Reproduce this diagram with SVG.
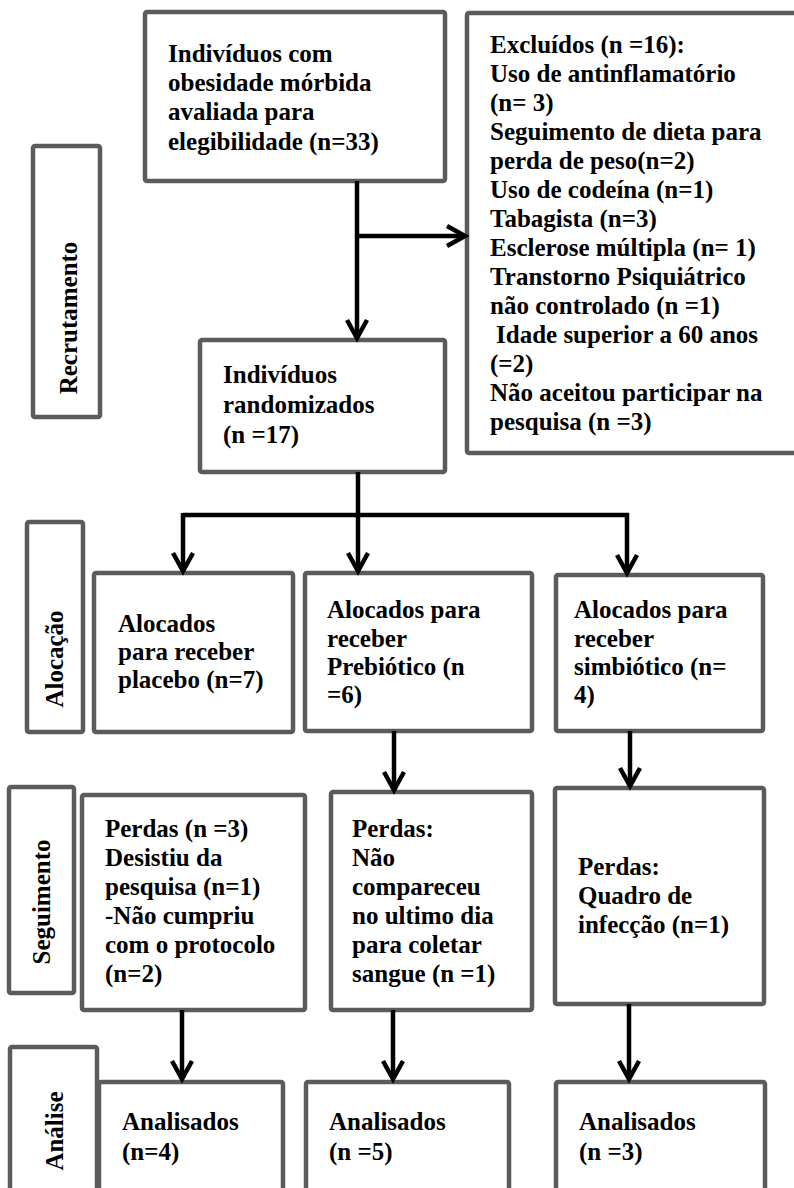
<svg xmlns="http://www.w3.org/2000/svg" width="794" height="1188" viewBox="0 0 794 1188">
<style>
.box{fill:#ffffff;stroke:#5b5b5b;stroke-width:4.5}
text{font-family:'Liberation Serif','Times New Roman','DejaVu Serif',serif;font-weight:700;font-size:25px;fill:#000}
.ln{stroke:#000;stroke-width:4.5;fill:none}
.arr{stroke:#000;stroke-width:4.5;fill:none;marker-end:url(#chev)}
</style>
<defs>
<marker id="chev" markerUnits="userSpaceOnUse" markerWidth="40" markerHeight="40" refX="0" refY="0" orient="auto" overflow="visible" viewBox="-20 -20 40 40">
<path d="M-18,-10 L0,0 L-18,10" fill="none" stroke="#000" stroke-width="4.5" stroke-linejoin="miter"/>
</marker>
</defs>
<rect width="794" height="1188" fill="#ffffff"/>

<g id="label-recrutamento">
<rect class="box" x="33" y="146" width="67" height="271" rx="2"/>
<text font-family="Liberation Serif, serif" transform="translate(77,318) rotate(-90)" text-anchor="middle">Recrutamento</text>
</g>
<g id="label-alocacao">
<rect class="box" x="27" y="522" width="56" height="210" rx="2"/>
<text transform="translate(63,659) rotate(-90)" text-anchor="middle">Alocação</text>
</g>
<g id="label-seguimento">
<rect class="box" x="9" y="787" width="65" height="206" rx="2"/>
<text transform="translate(50,902) rotate(-90)" text-anchor="middle">Seguimento</text>
</g>
<g id="label-analise">
<rect class="box" x="10" y="1047" width="87" height="160" rx="2"/>
<text transform="translate(63,1131) rotate(-90)" text-anchor="middle">Análise</text>
</g>

<g id="node-eligible">
<rect class="box" x="145" y="12" width="300" height="169" rx="2"/>
<text x="168" y="62">Indivíduos com</text>
<text x="168" y="91">obesidade mórbida</text>
<text x="168" y="120">avaliada para</text>
<text x="168" y="150">elegibilidade (n=33)</text>
</g>

<g id="node-excluded">
<rect class="box" x="467" y="13" width="340" height="440" rx="2"/>
<text x="490" y="53">Excluídos (n =16):</text>
<text x="490" y="82">Uso de antinflamatório</text>
<text x="490" y="111">(n= 3)</text>
<text x="490" y="140">Seguimento de dieta para</text>
<text x="490" y="169">perda de peso(n=2)</text>
<text x="490" y="198">Uso de codeína (n=1)</text>
<text x="490" y="227">Tabagista (n=3)</text>
<text x="490" y="256">Esclerose múltipla (n= 1)</text>
<text x="490" y="285">Transtorno Psiquiátrico</text>
<text x="490" y="314">não controlado (n =1)</text>
<text x="496" y="343">Idade superior a 60 anos</text>
<text x="490" y="372">(=2)</text>
<text x="490" y="401">Não aceitou participar na</text>
<text x="490" y="430">pesquisa (n =3)</text>
</g>

<g id="node-randomized">
<rect class="box" x="200" y="340" width="245" height="132" rx="2"/>
<text x="223" y="383">Indivíduos</text>
<text x="223" y="413">randomizados</text>
<text x="223" y="443">(n =17)</text>
</g>

<g id="node-alloc-placebo">
<rect class="box" x="94" y="573" width="199" height="159" rx="2"/>
<text x="118" y="632">Alocados</text>
<text x="118" y="660">para receber</text>
<text x="118" y="688">placebo (n=7)</text>
</g>
<g id="node-alloc-prebiotic">
<rect class="box" x="305" y="573" width="227" height="158" rx="2"/>
<text x="327" y="618">Alocados para</text>
<text x="327" y="647">receber</text>
<text x="327" y="675">Prebiótico (n</text>
<text x="327" y="703">=6)</text>
</g>
<g id="node-alloc-symbiotic">
<rect class="box" x="556" y="575" width="207" height="156" rx="2"/>
<text x="574" y="618">Alocados para</text>
<text x="574" y="647">receber</text>
<text x="574" y="675">simbiótico (n=</text>
<text x="574" y="703">4)</text>
</g>

<g id="node-loss-placebo">
<rect class="box" x="82" y="795" width="223" height="215" rx="2"/>
<text x="105" y="837">Perdas (n =3)</text>
<text x="105" y="866">Desistiu da</text>
<text x="105" y="895">pesquisa (n=1)</text>
<text x="105" y="924">-Não cumpriu</text>
<text x="105" y="953">com o protocolo</text>
<text x="105" y="982">(n=2)</text>
</g>
<g id="node-loss-prebiotic">
<rect class="box" x="331" y="792" width="201" height="218" rx="2"/>
<text x="352" y="837">Perdas:</text>
<text x="352" y="866">Não</text>
<text x="352" y="895">compareceu</text>
<text x="352" y="924">no ultimo dia</text>
<text x="352" y="953">para coletar</text>
<text x="352" y="982">sangue (n =1)</text>
</g>
<g id="node-loss-symbiotic">
<rect class="box" x="555" y="788" width="209" height="216" rx="2"/>
<text x="578" y="875">Perdas:</text>
<text x="578" y="904">Quadro de</text>
<text x="578" y="933">infecção (n=1)</text>
</g>

<g id="node-analysed-placebo">
<rect class="box" x="99" y="1082" width="184" height="130" rx="2"/>
<text x="122" y="1130">Analisados</text>
<text x="122" y="1160">(n=4)</text>
</g>
<g id="node-analysed-prebiotic">
<rect class="box" x="306" y="1082" width="203" height="130" rx="2"/>
<text x="329" y="1130">Analisados</text>
<text x="329" y="1160">(n =5)</text>
</g>
<g id="node-analysed-symbiotic">
<rect class="box" x="556" y="1082" width="209" height="130" rx="2"/>
<text x="579" y="1130">Analisados</text>
<text x="579" y="1160">(n =3)</text>
</g>

<g id="connectors">
<line class="arr" x1="357" y1="181" x2="357" y2="338"/>
<line class="arr" x1="357" y1="236" x2="465" y2="236"/>
<line class="ln" x1="358" y1="472" x2="358" y2="515"/>
<line class="ln" x1="183" y1="515" x2="629" y2="515"/>
<line class="arr" x1="183" y1="513" x2="183" y2="571"/>
<line class="arr" x1="358" y1="513" x2="358" y2="571"/>
<line class="arr" x1="627" y1="513" x2="627" y2="573"/>
<line class="arr" x1="394" y1="731" x2="394" y2="790"/>
<line class="arr" x1="630" y1="731" x2="630" y2="786"/>
<line class="arr" x1="182" y1="1010" x2="182" y2="1079"/>
<line class="arr" x1="393" y1="1010" x2="393" y2="1079"/>
<line class="arr" x1="629" y1="1004" x2="629" y2="1079"/>
</g>
</svg>
